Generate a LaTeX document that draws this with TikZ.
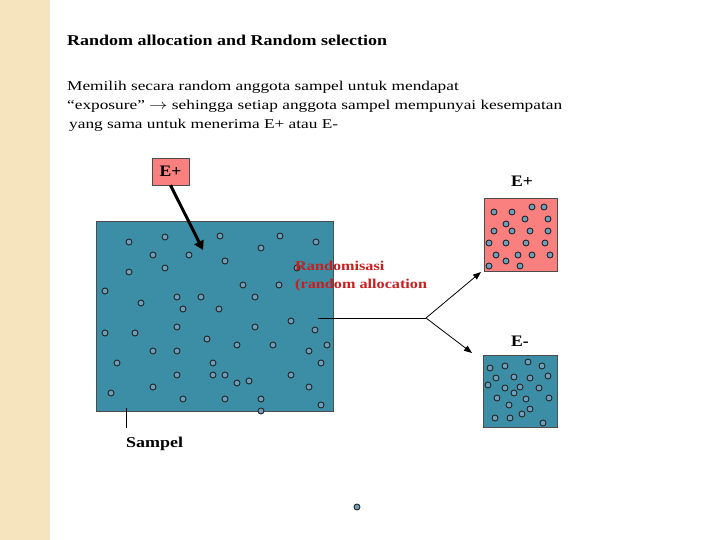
\documentclass[tikz,border=0pt]{standalone}
\usepackage{fontspec}
\setmainfont{Liberation Serif}
\usetikzlibrary{arrows.meta}
\definecolor{beige}{RGB}{245,228,190}
\definecolor{teal}{RGB}{59,142,165}
\definecolor{salmon}{RGB}{250,128,128}
\definecolor{dotfill}{RGB}{110,160,190}
\definecolor{redtxt}{RGB}{200,30,30}
\newcommand{\wide}[2]{\scalebox{#1}[1]{#2}}
\tikzset{dot/.style={circle,draw=black!85,fill=dotfill,line width=0.9pt,inner sep=0pt,minimum size=6pt},
  txt/.style={anchor=west,inner sep=0pt,font=\fontsize{13.5}{15}\selectfont}}
\begin{document}
\begin{tikzpicture}[x=1pt,y=-1pt]
\useasboundingbox (0,0) rectangle (720,540);
\fill[white] (0,0) rectangle (720,540);
\fill[beige] (0,0) rectangle (50,540);
\node[txt,font=\fontsize{15}{17}\selectfont\bfseries] (title) at (67,40) {\wide{1.2}{Random allocation and Random selection}};
\node[txt] (l1) at (67,87) {\wide{1.28}{Memilih secara random anggota sampel untuk mendapat}};
\node[txt] (l2) at (67,106) {\wide{1.28}{“exposure” $\rightarrow$ sehingga setiap anggota sampel mempunyai kesempatan}};
\node[txt] (l3) at (69,125) {\wide{1.28}{yang sama untuk menerima E+ atau E-}};
\node[draw=black!70,fill=teal,minimum width=237pt,minimum height=190pt,inner sep=0pt] (big) at (214.5,316) {};
\node[draw=black!70,fill=salmon,minimum width=73pt,minimum height=73pt,inner sep=0pt] (pos) at (520.5,234.5) {};
\node[draw=black!70,fill=teal,minimum width=74pt,minimum height=72pt,inner sep=0pt] (neg) at (520,391) {};
\foreach \p in {(129,242),(165,237),(220,236),(280,236),(316,242),(153,255),(189,255),(261,248),(225,261),(129,272),(165,268),(297,268),(105,291),(177,297),(201,297),(141,303),(243,285),(255,297),(279,285),(219,309),(183,309),(291,321),(105,333),(135,333),(177,327),(255,327),(315,330),(327,345),(273,345),(207,339),(237,345),(309,351),(153,351),(117,363),(177,351),(213,363),(321,363),(213,375),(225,375),(177,375),(237,383),(249,381),(291,375),(153,387),(111,393),(183,399),(225,399),(261,399),(309,387),(321,405),(261,411)}
  \node[dot] at \p {};
\foreach \p in {(494,212),(512,212),(532,207),(544,207),(506,224),(525,219),(548,219),(494,231),(512,231),(530,231),(548,231),(489,243),(506,243),(526,243),(545,243),(496,255),(518,255),(532,255),(550,255),(489,266),(506,261),(520,266)}
  \node[dot] at \p {};
\foreach \p in {(490,368),(505,366),(528,362),(542,366),(496,378),(514,377),(530,378),(548,376),(488,385),(505,388),(520,387),(539,388),(514,393),(497,398),(526,399),(549,398),(509,405),(530,409),(522,414),(495,418),(510,418),(543,423)}
  \node[dot] at \p {};
\node[dot] (lone) at (357,507) {};
\node[draw=black!70,fill=salmon,minimum width=37pt,minimum height=27pt,inner sep=0pt,font=\fontsize{16}{17}\selectfont\bfseries] (ep) at (170.5,171.5) {\wide{1.1}{E+}};
\draw[line width=3pt,-{Triangle[length=9pt,width=10pt]}] (ep.south) -- (203,250);
\node[inner sep=0pt,font=\fontsize{16}{17}\selectfont\bfseries] (eplab) at (522,181) {\wide{1.1}{E+}};
\node[inner sep=0pt,font=\fontsize{16}{17}\selectfont\bfseries] (emlab) at (520,341) {\wide{1.1}{E-}};
\node[txt,text=redtxt,font=\fontsize{13.5}{15}\selectfont\bfseries] (r1) at (295,266) {\wide{1.2}{Randomisasi}};
\node[txt,text=redtxt,font=\fontsize{13.5}{15}\selectfont\bfseries] (r2) at (295,285) {\wide{1.2}{(random allocation}};
\coordinate (s) at (318,318);
\coordinate (fork) at (426,318);
\coordinate (t1) at (481,272);
\coordinate (t2) at (472,353);
\draw[line width=0.8pt] (s) -- (fork);
\draw[line width=0.8pt,-{Triangle[length=8pt,width=6pt]}] (fork) -- (t1);
\draw[line width=0.8pt,-{Triangle[length=8pt,width=6pt]}] (fork) -- (t2);
\coordinate (sa) at (126,408);
\coordinate (sb) at (126,428);
\draw[line width=0.8pt] (sa) -- (sb);
\node[txt,font=\fontsize{15}{17}\selectfont\bfseries] (samp) at (126,444) {\wide{1.2}{Sampel}};
\end{tikzpicture}
\end{document}
